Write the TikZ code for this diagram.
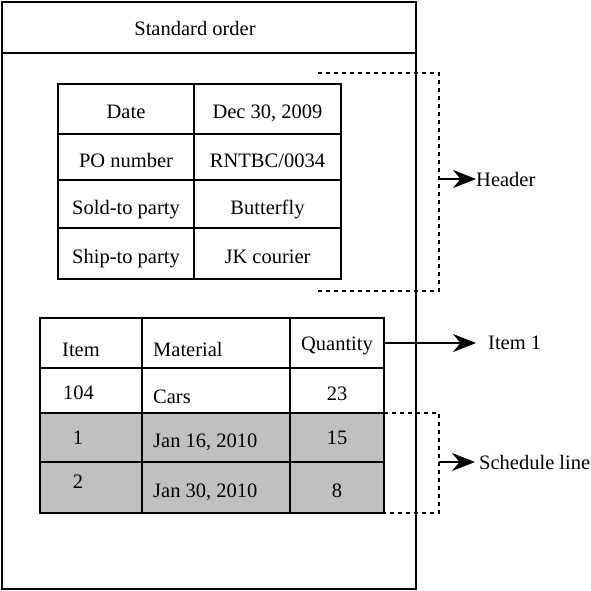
\documentclass[tikz,border=0pt]{standalone}
\usepackage{fontspec}
\setmainfont{Liberation Serif}
\usetikzlibrary{
	arrows.meta,
	positioning
}
\definecolor{schedgray}{RGB}{192,192,192}
\tikzset{
	SO-Box/.style={rectangle,draw,line width=2pt,inner sep=0pt,outer sep=0pt},
	SO-Cell/.style={rectangle,draw,line width=2.3pt,inner sep=0pt,outer sep=0pt,anchor=north west,text height=20pt,text depth=0pt},
	SO-Text/.style={inner sep=0pt,anchor=base west},
	SO-Label/.style={inner sep=0pt,anchor=west},
	SO-Bracket/.style={line width=2pt,dash pattern=on 4pt off 4pt},
	SO-Arrow/.style={-{Stealth[length=23pt,width=18pt]},line width=1.8pt}
}

\begin{document}
\begin{tikzpicture}[x=1pt,y=-1pt,font=\fontsize{20.5}{24}\selectfont]
	\useasboundingbox (0,0) rectangle (590,591);
	% order frame
	\node[SO-Box,anchor=north west,minimum width=414pt,minimum height=51pt] (title) at (2,2) {};
	\node[SO-Box,anchor=north west,minimum width=414pt,minimum height=536pt] (body) at (title.south west) {};
	\node[SO-Text,anchor=base] (titletext) at (195,36) {Standard order};
	% header table
	\node[SO-Cell,minimum width=136pt,minimum height=50pt] (date) at (58,84) {Date};
	\node[SO-Cell,minimum width=147pt,minimum height=50pt] (dateval) at (date.north east) {Dec 30, 2009};
	\node[SO-Cell,minimum width=136pt,minimum height=46pt] (po) at (date.south west) {PO number};
	\node[SO-Cell,minimum width=147pt,minimum height=46pt] (poval) at (po.north east) {RNTBC/0034};
	\node[SO-Cell,minimum width=136pt,minimum height=48pt] (sold) at (po.south west) {Sold-to party};
	\node[SO-Cell,minimum width=147pt,minimum height=48pt] (soldval) at (sold.north east) {Butterfly};
	\node[SO-Cell,minimum width=136pt,minimum height=51pt] (ship) at (sold.south west) {Ship-to party};
	\node[SO-Cell,minimum width=147pt,minimum height=51pt] (shipval) at (ship.north east) {JK courier};
	% item table, schedule lines shaded
	\foreach \r/\y/\h/\f in {1/318/50/white,2/368/45/white,3/413/49/schedgray,4/462/51/schedgray} {
		\foreach \c/\x/\w in {1/40/102,2/142/148,3/290/94} {
			\node[SO-Cell,fill=\f,minimum width=\w pt,minimum height=\h pt] (it\r\c) at (\x,\y) {};
		}
	}
	\node[SO-Text] (itemhead) at (62,356) {Item};
	\node[SO-Text] (mathead) at (153,356) {Material};
	\node[SO-Text,anchor=base] (qtyhead) at (337,350) {Quantity};
	\node[SO-Text] (itemno) at (63,399) {104};
	\node[SO-Text] (matname) at (153,403) {Cars};
	\node[SO-Text,anchor=base] (itemqty) at (337,400) {23};
	\node[SO-Text,anchor=base] (slone) at (78,444) {1};
	\node[SO-Text] (slonedate) at (153,447) {Jan 16, 2010};
	\node[SO-Text,anchor=base] (sloneqty) at (337,444) {15};
	\node[SO-Text,anchor=base] (sltwo) at (78,488) {2};
	\node[SO-Text] (sltwodate) at (153,497) {Jan 30, 2010};
	\node[SO-Text,anchor=base] (sltwoqty) at (337,497) {8};
	% header bracket
	\coordinate (hdtop) at (318,73);
	\coordinate (hdbot) at (318,291);
	\coordinate (hdmid) at (439,179);
	\draw[SO-Bracket] (hdtop) -- (439,73) -- (439,291) -- (hdbot);
	\node[SO-Label] (header) at (476,179) {Header};
	\draw[SO-Arrow] (hdmid) -- (header.west);
	% item arrow
	\node[SO-Label] (itemone) at (488,343) {Item 1};
	\draw[SO-Arrow,shorten >=12pt] (it13.east) -- (itemone.west);
	% schedule line bracket
	\coordinate (slmid) at (439,462);
	\draw[SO-Bracket] (it33.north east) -- (439,413) -- (439,513) -- (it43.south east);
	\node[SO-Label] (schedline) at (479,462) {Schedule line};
	\draw[SO-Arrow,shorten >=4pt] (slmid) -- (schedline.west);
\end{tikzpicture}
\end{document}
